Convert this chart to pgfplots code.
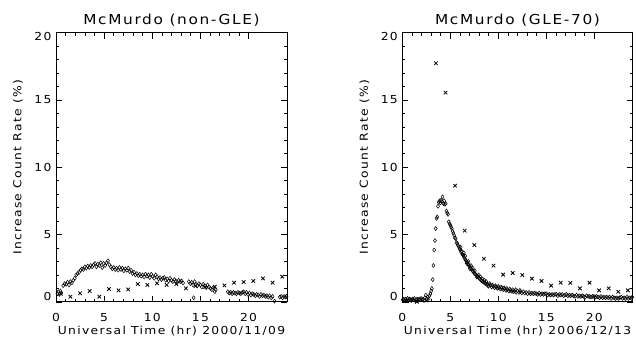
\documentclass[border=0pt]{standalone}
\usepackage{fontspec}
\setmainfont{DejaVu Sans}[LetterSpace=12, FakeStretch=1.12]
\usepackage{pgfplots}
\pgfplotsset{compat=1.18}
\pgfplotstableread{
x y
0.15 0.60
0.25 0.75
0.35 0.55
0.45 0.80
0.55 0.65
0.75 1.20
0.90 1.35
1.05 1.30
1.20 1.45
1.35 1.25
1.50 1.50
1.65 1.40
1.80 1.60
1.95 1.75
2.10 2.00
2.25 2.10
2.40 2.20
2.55 2.35
2.70 2.45
2.85 2.40
3.00 2.60
3.15 2.50
3.30 2.65
3.45 2.55
3.60 2.70
3.75 2.60
3.90 2.75
4.05 2.85
4.20 2.60
4.35 2.80
4.50 2.70
4.65 2.90
4.80 2.55
4.95 2.85
5.10 2.70
5.25 2.90
5.40 3.05
5.55 2.75
5.70 2.60
5.85 2.45
6.00 2.55
6.15 2.40
6.30 2.50
6.45 2.35
6.60 2.55
6.75 2.40
6.90 2.50
7.05 2.30
7.20 2.45
7.35 2.35
7.50 2.50
7.65 2.25
7.80 2.35
7.95 2.10
8.10 2.20
8.25 2.00
8.40 2.10
8.55 1.95
8.70 2.05
8.85 1.90
9.00 2.00
9.15 1.85
9.30 2.05
9.45 1.90
9.60 2.00
9.75 1.80
9.90 2.05
10.05 1.90
10.20 1.75
10.35 2.00
10.50 1.85
10.65 1.70
10.80 1.80
10.95 1.65
11.10 1.75
11.25 1.80
11.40 1.60
11.55 1.70
11.70 1.55
11.85 1.75
12.00 1.60
12.15 1.50
12.30 1.65
12.45 1.55
12.60 1.45
12.75 1.60
12.90 1.50
13.05 1.55
13.20 1.40
13.80 1.50
13.95 1.35
14.10 1.45
14.25 1.25
14.30 0.30
14.40 1.50
14.55 1.30
14.70 1.20
14.85 1.35
15.00 1.25
15.15 1.10
15.30 1.30
15.45 1.20
15.60 1.05
15.75 1.25
15.90 1.10
16.05 1.00
16.20 0.90
16.35 1.05
16.50 0.75
16.60 0.90
17.85 0.75
18.00 0.65
18.15 0.70
18.30 0.60
18.45 0.70
18.60 0.65
18.75 0.60
18.90 0.70
19.05 0.65
19.20 0.60
19.35 0.70
19.50 0.75
19.65 0.60
19.80 0.70
19.95 0.55
20.10 0.65
20.25 0.50
20.40 0.60
20.55 0.55
20.70 0.45
20.85 0.55
21.00 0.50
21.15 0.40
21.30 0.55
21.45 0.45
21.60 0.50
21.75 0.40
21.90 0.45
22.05 0.35
22.20 0.45
22.35 0.30
22.50 0.40
22.70 0.05
23.25 0.35
23.40 0.40
23.55 0.30
23.70 0.40
23.85 0.35
23.95 0.40
}\leftdia
\pgfplotstableread{
x y
0.5 0.60
1.5 0.38
2.5 0.63
3.5 0.80
4.5 0.38
5.5 0.95
6.5 0.85
7.5 0.92
8.5 1.32
9.5 1.25
10.5 1.37
11.5 1.25
12.5 1.32
13.5 1.00
14.5 1.17
15.5 1.10
16.5 1.12
17.5 1.22
18.5 1.42
19.5 1.47
20.5 1.55
21.5 1.74
22.5 1.42
23.5 1.87
}\leftx
\pgfplotstableread{
x y
0.05 0.15
0.15 0.20
0.25 0.10
0.35 0.20
0.45 0.15
0.55 0.25
0.65 0.10
0.75 0.20
0.85 0.15
0.95 0.10
1.05 0.20
1.15 0.15
1.25 0.25
1.35 0.10
1.45 0.15
1.55 0.20
1.65 0.10
1.75 0.20
1.85 0.15
1.95 0.25
2.05 0.15
2.15 0.20
2.25 0.10
2.35 0.30
2.45 0.50
2.55 0.20
2.65 0.35
2.75 0.25
2.83 0.45
2.92 0.60
3.00 0.80
3.08 1.00
3.16 1.65
3.24 2.70
3.32 3.85
3.40 4.55
3.48 5.45
3.56 6.20
3.64 6.30
3.72 7.10
3.80 7.40
3.88 7.50
3.96 7.35
4.04 7.55
4.12 7.45
4.20 7.80
4.28 7.30
4.36 7.50
4.44 7.25
4.52 7.30
4.60 6.75
4.68 6.60
4.76 6.50
4.84 5.95
4.92 5.80
5.00 5.70
5.08 5.55
5.16 5.45
5.24 5.25
5.32 5.10
5.40 4.95
5.48 4.75
5.56 4.70
5.64 4.40
5.72 4.35
5.80 4.20
5.88 4.10
5.96 3.95
6.04 3.85
6.08 4.05
6.12 3.70
6.20 3.75
6.24 3.55
6.28 3.50
6.36 3.45
6.40 3.65
6.44 3.30
6.52 3.20
6.56 3.40
6.60 3.10
6.68 3.00
6.72 2.85
6.76 2.95
6.84 2.80
6.88 3.00
6.92 2.70
7.00 2.65
7.05 2.45
7.10 2.50
7.15 2.70
7.20 2.45
7.30 2.30
7.35 2.50
7.40 2.25
7.50 2.10
7.55 2.30
7.60 2.05
7.70 2.00
7.75 1.85
7.80 1.90
7.90 1.85
7.95 2.00
8.00 1.75
8.10 1.70
8.15 1.85
8.20 1.60
8.30 1.55
8.35 1.70
8.40 1.50
8.50 1.45
8.55 1.60
8.60 1.40
8.70 1.35
8.75 1.50
8.80 1.30
8.90 1.30
8.95 1.15
9.00 1.20
9.10 1.35
9.15 1.25
9.30 1.10
9.40 1.25
9.45 1.15
9.60 1.05
9.70 1.20
9.75 1.10
9.90 1.00
10.00 1.15
10.05 1.05
10.20 0.95
10.30 1.10
10.35 1.00
10.50 0.90
10.60 1.05
10.65 0.95
10.80 0.85
10.90 1.00
10.95 0.90
11.10 0.80
11.20 0.95
11.25 0.85
11.40 0.80
11.50 0.90
11.55 0.75
11.70 0.80
11.80 0.90
11.85 0.70
12.00 0.80
12.15 0.70
12.25 0.85
12.30 0.75
12.45 0.65
12.60 0.75
12.75 0.65
12.90 0.70
13.05 0.60
13.20 0.70
13.35 0.60
13.50 0.65
13.65 0.60
13.80 0.65
13.95 0.60
14.10 0.55
14.25 0.65
14.40 0.55
14.55 0.60
14.70 0.55
14.85 0.60
15.00 0.60
15.15 0.50
15.30 0.55
15.45 0.50
15.60 0.55
15.75 0.50
15.90 0.55
16.05 0.55
16.20 0.45
16.35 0.55
16.50 0.50
16.65 0.55
16.80 0.45
16.95 0.50
17.10 0.55
17.25 0.45
17.40 0.50
17.55 0.45
17.70 0.50
17.85 0.45
18.00 0.40
18.15 0.50
18.30 0.40
18.45 0.45
18.60 0.40
18.75 0.45
18.90 0.40
19.05 0.35
19.20 0.45
19.35 0.40
19.50 0.40
19.65 0.35
19.80 0.40
19.95 0.40
20.10 0.35
20.25 0.40
20.40 0.35
20.55 0.30
20.70 0.40
20.85 0.30
21.00 0.35
21.15 0.30
21.30 0.35
21.45 0.30
21.60 0.35
21.75 0.25
21.90 0.35
22.05 0.30
22.20 0.25
22.35 0.30
22.50 0.25
22.65 0.30
22.80 0.35
22.95 0.25
23.10 0.30
23.25 0.25
23.40 0.35
23.55 0.25
23.70 0.30
23.85 0.25
23.95 0.35
}\rightdia
\pgfplotstableread{
x y
0.5 0.05
1.5 0.00
2.5 0.10
3.5 17.73
4.5 15.55
5.5 8.63
6.5 5.29
7.5 4.22
8.5 3.20
9.5 2.69
10.5 2.02
11.5 2.14
12.5 1.99
13.5 1.72
14.5 1.55
15.5 1.20
16.5 1.42
17.5 1.40
18.5 1.00
19.5 1.42
20.5 0.85
21.5 1.00
22.5 0.74
23.5 0.85
}\rightx
\pgfplotsset{
  every axis title shift=0pt,
  mcm/.style={
    scale only axis, width=231bp, height=269.1bp,
    xmin=0, xmax=24, ymin=0, ymax=20, clip=false,
    xtick={0,5,10,15,20}, ytick={0,5,10,15,20},
    xticklabels={0,5,10,15,20},
    yticklabels={\raisebox{5bp}{0},5,10,15,\raisebox{-4bp}{20}},
    minor x tick num=4, minor y tick num=4,
    tick align=inside, tick pos=both,
    major tick length=6bp, minor tick length=3bp,
    axis line style={line width=0.7bp},
    every tick/.style={black, line width=0.6bp},
    tick label style={font=\fontsize{11bp}{13bp}\selectfont},
    xticklabel style={anchor=base, yshift=-20bp},
    yticklabel style={anchor=base east, yshift=-4bp, xshift=-1bp},
    label style={font=\fontsize{11bp}{13bp}\selectfont},
    xlabel style={at={(axis description cs:0.5,-0.121)}, anchor=base},
    ylabel style={at={(axis description cs:-0.1645,0.5)}, anchor=center},
    ylabel={Increase Count Rate (\%)},
    title style={at={(axis description cs:0.5,1.0297)}, anchor=base,
      font=\fontsize{13.7bp}{16bp}\selectfont},
    dia/.style={only marks, mark=diamond, mark size=2bp, black,
      mark options={line width=0.5bp}},
    crs/.style={only marks, mark=x, mark size=2.5bp, black,
      mark options={line width=0.8bp}},
  }
}
\begin{document}
\begin{tikzpicture}
\useasboundingbox (0,0) rectangle (636bp,346bp);
\begin{axis}[mcm, at={(56bp,44.2bp)}, anchor=south west,
  title={McMurdo (non-GLE)}, xlabel={Universal Time (hr) 2000/11/09}]
\addplot[dia] table {\leftdia};
\addplot[crs] table {\leftx};
\end{axis}
\begin{axis}[mcm, width=230.4bp, at={(402.3bp,44.2bp)}, anchor=south west,
  title={McMurdo (GLE-70)}, xlabel={Universal Time (hr) 2006/12/13}]
\addplot[dia] table {\rightdia};
\addplot[crs] table {\rightx};
\end{axis}
\end{tikzpicture}
\end{document}
